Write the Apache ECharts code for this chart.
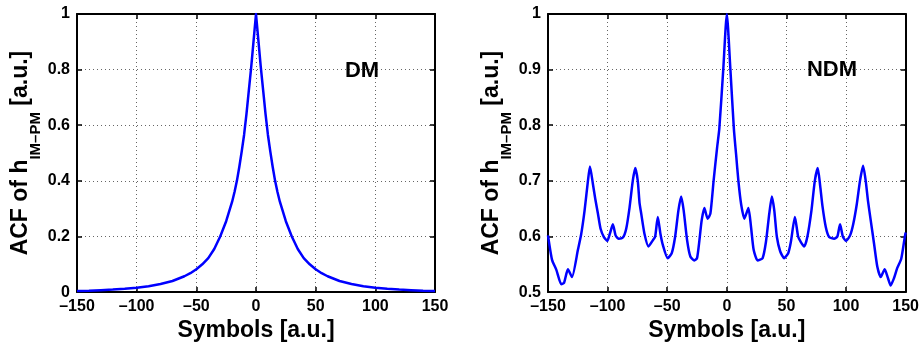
<!DOCTYPE html>
<html>
<head>
<meta charset="utf-8">
<script src="https://cdn.jsdelivr.net/npm/echarts@6/dist/echarts.min.js"></script>
<style>
html,body{margin:0;padding:0;background:#fff;}
#c{width:922px;height:347px;}
</style>
</head>
<body>
<div id="c"></div>
<script>
// ---- data ----
const xTickLabels = [-150, -100, -50, 0, 50, 100, 150];

const dmX = [-150,-140,-130,-120,-110,-100,-90,-80,-70,-60,-55,-50,-45,-40,-35,-30,-25,-20,-18,-16,-14,-12,-10,-8,-6,-4,-2,0,
             2,4,6,8,10,12,14,16,18,20,25,30,35,40,45,50,55,60,70,80,90,100,110,120,130,140,150];
const dmY = [0.004,0.005,0.007,0.009,0.012,0.016,0.021,0.029,0.040,0.057,0.068,0.082,0.100,0.122,0.155,0.200,0.255,0.325,0.360,0.400,0.450,0.505,0.565,0.640,0.725,0.810,0.905,1.000,
             0.905,0.810,0.725,0.640,0.565,0.505,0.450,0.400,0.360,0.325,0.255,0.200,0.155,0.122,0.100,0.082,0.068,0.057,0.040,0.029,0.021,0.016,0.012,0.009,0.007,0.005,0.004];

const ndmX = [-150,-146.6,-143,-138.8,-136.5,-133.3,-129.9,-124.9,-122.1,-119.3,-116.5,-114.8,-112.3,-110.3,-108.1,-105.9,-103.1,-100.3,
              -98.1,-95.6,-93.3,-90.8,-87.2,-84.4,-81.6,-78.9,-76.8,-74.7,-73.2,-71.8,-69.1,-65.7,-62.1,-60.1,-57.9,-55.7,-53.7,
              -49.6,-46.2,-43.4,-40.6,-38.3,-36.2,-33.3,-30.6,-27.2,-25,-23,-21.1,-18.8,-16.1,-13.8,-11.1,-8.2,-6.3,-3,0,
              3,5.9,7.8,9.7,12,14.7,18.1,20.3,22.5,25.8,30,32.8,35.6,37.8,39.8,42,44.8,48.1,51.5,53.7,57.1,59.8,62.1,64.9,
              67.6,71,73.8,76.3,78.3,80.2,83,85.8,90,92.7,95,97.3,100,103.4,106.1,109,111.7,114.3,116.5,118.4,120.7,123.5,
              126.2,129.1,132.4,135.2,137.4,140.2,142.9,146.3,149.2,150];
const ndmY = [0.602,0.558,0.540,0.514,0.517,0.541,0.527,0.576,0.605,0.647,0.700,0.726,0.694,0.667,0.641,0.614,0.599,0.592,
              0.605,0.622,0.602,0.596,0.598,0.614,0.652,0.700,0.723,0.700,0.660,0.641,0.605,0.582,0.593,0.600,0.635,0.605,0.585,
              0.561,0.570,0.599,0.647,0.672,0.647,0.593,0.564,0.557,0.561,0.593,0.629,0.651,0.632,0.641,0.700,0.759,0.794,0.900,1.000,
              0.900,0.794,0.747,0.700,0.658,0.632,0.651,0.617,0.576,0.557,0.561,0.590,0.641,0.672,0.647,0.599,0.573,0.561,0.570,0.590,0.635,0.600,0.590,0.582,
              0.600,0.647,0.700,0.723,0.691,0.655,0.617,0.599,0.596,0.600,0.622,0.600,0.592,0.602,0.623,0.658,0.700,0.727,0.700,0.664,0.629,0.587,
              0.546,0.527,0.541,0.525,0.512,0.525,0.543,0.560,0.598,0.607];

const panelLabels = ['DM', 'NDM'];
const yTitle = '{m|ACF of h}{s|IM\u2013PM}{m| [a.u.]}';
const xTitle = 'Symbols [a.u.]';

// ---- chart ----
const FONT = '"Liberation Sans", Arial, Helvetica, sans-serif';
const chart = echarts.init(document.getElementById('c'), null, {renderer: 'canvas'});

const fmtX = v => String(v).replace('-', '\u2013');

function xAxes(gi) {
  return [
    {
      gridIndex: gi, type: 'value', min: -150, max: 150, interval: 50, position: 'bottom',
      name: xTitle, nameLocation: 'middle', nameGap: 21,
      nameTextStyle: {fontFamily: FONT, fontWeight: 'bold', fontSize: 23, color: '#000'},
      axisLine: {show: true, onZero: false, lineStyle: {color: '#000', width: 2}},
      axisTick: {show: true, inside: true, length: 5, lineStyle: {color: '#000', width: 1.5}},
      axisLabel: {fontFamily: FONT, fontWeight: 'bold', fontSize: 16, color: '#000', margin: 6, formatter: fmtX},
      splitLine: {show: true, lineStyle: {color: '#666', width: 1, type: [1, 3]}}
    },
    {
      gridIndex: gi, type: 'value', min: -150, max: 150, interval: 50, position: 'top',
      axisLine: {show: true, onZero: false, lineStyle: {color: '#000', width: 2}},
      axisTick: {show: true, inside: true, length: 5, lineStyle: {color: '#000', width: 1.5}},
      axisLabel: {show: false}, splitLine: {show: false}
    }
  ];
}
function yAxes(gi, min, interval, gap) {
  return [
    {
      gridIndex: gi, type: 'value', min: min, max: 1, interval: interval, position: 'left',
      name: yTitle, nameLocation: 'middle', nameGap: gap,
      nameTextStyle: {
        color: '#000',
        rich: {
          m: {fontFamily: FONT, fontWeight: 'bold', fontSize: 23, color: '#000', lineHeight: 24, verticalAlign: 'top'},
          s: {fontFamily: FONT, fontWeight: 'bold', fontSize: 15, color: '#000', lineHeight: 16, verticalAlign: 'top', padding: [20, 0, 0, 0]}
        }
      },
      axisLine: {show: true, onZero: false, lineStyle: {color: '#000', width: 2}},
      axisTick: {show: true, inside: true, length: 5, lineStyle: {color: '#000', width: 1.5}},
      axisLabel: {fontFamily: FONT, fontWeight: 'bold', fontSize: 16, color: '#000', margin: 7},
      splitLine: {show: true, lineStyle: {color: '#666', width: 1, type: [1, 3]}}
    },
    {
      gridIndex: gi, type: 'value', min: min, max: 1, interval: interval, position: 'right',
      axisLine: {show: true, onZero: false, lineStyle: {color: '#000', width: 2}},
      axisTick: {show: true, inside: true, length: 5, lineStyle: {color: '#000', width: 1.5}},
      axisLabel: {show: false}, splitLine: {show: false}
    }
  ];
}

const option = {
  backgroundColor: '#fff',
  animation: false,
  grid: [
    {left: 77, right: 487, top: 14, bottom: 51, containLabel: false},
    {left: 548, right: 15, top: 14, bottom: 51, containLabel: false}
  ],
  xAxis: [...xAxes(0), ...xAxes(1)],
  yAxis: [...yAxes(0, 0, 0.2, 30), ...yAxes(1, 0.5, 0.1, 29)],
  series: [
    {
      type: 'line', xAxisIndex: 0, yAxisIndex: 0, showSymbol: false, smooth: false,
      lineStyle: {color: '#0000ff', width: 2.5, join: 'round'}, itemStyle: {color: '#0000ff'},
      data: dmX.map((x, i) => [x, dmY[i]])
    },
    {
      type: 'line', xAxisIndex: 2, yAxisIndex: 2, showSymbol: false, smooth: 0.2,
      lineStyle: {color: '#0000ff', width: 2.5, join: 'round'}, itemStyle: {color: '#0000ff'},
      data: ndmX.map((x, i) => [x, ndmY[i]])
    }
  ],
  graphic: [
    {type: 'text', x: 362, y: 71, z: 10,
     style: {text: panelLabels[0], font: 'bold 22px ' + FONT, fill: '#000', align: 'center', verticalAlign: 'middle'}},
    {type: 'text', x: 832, y: 70, z: 10,
     style: {text: panelLabels[1], font: 'bold 22px ' + FONT, fill: '#000', align: 'center', verticalAlign: 'middle'}}
  ]
};
chart.setOption(option);
</script>
</body>
</html>
